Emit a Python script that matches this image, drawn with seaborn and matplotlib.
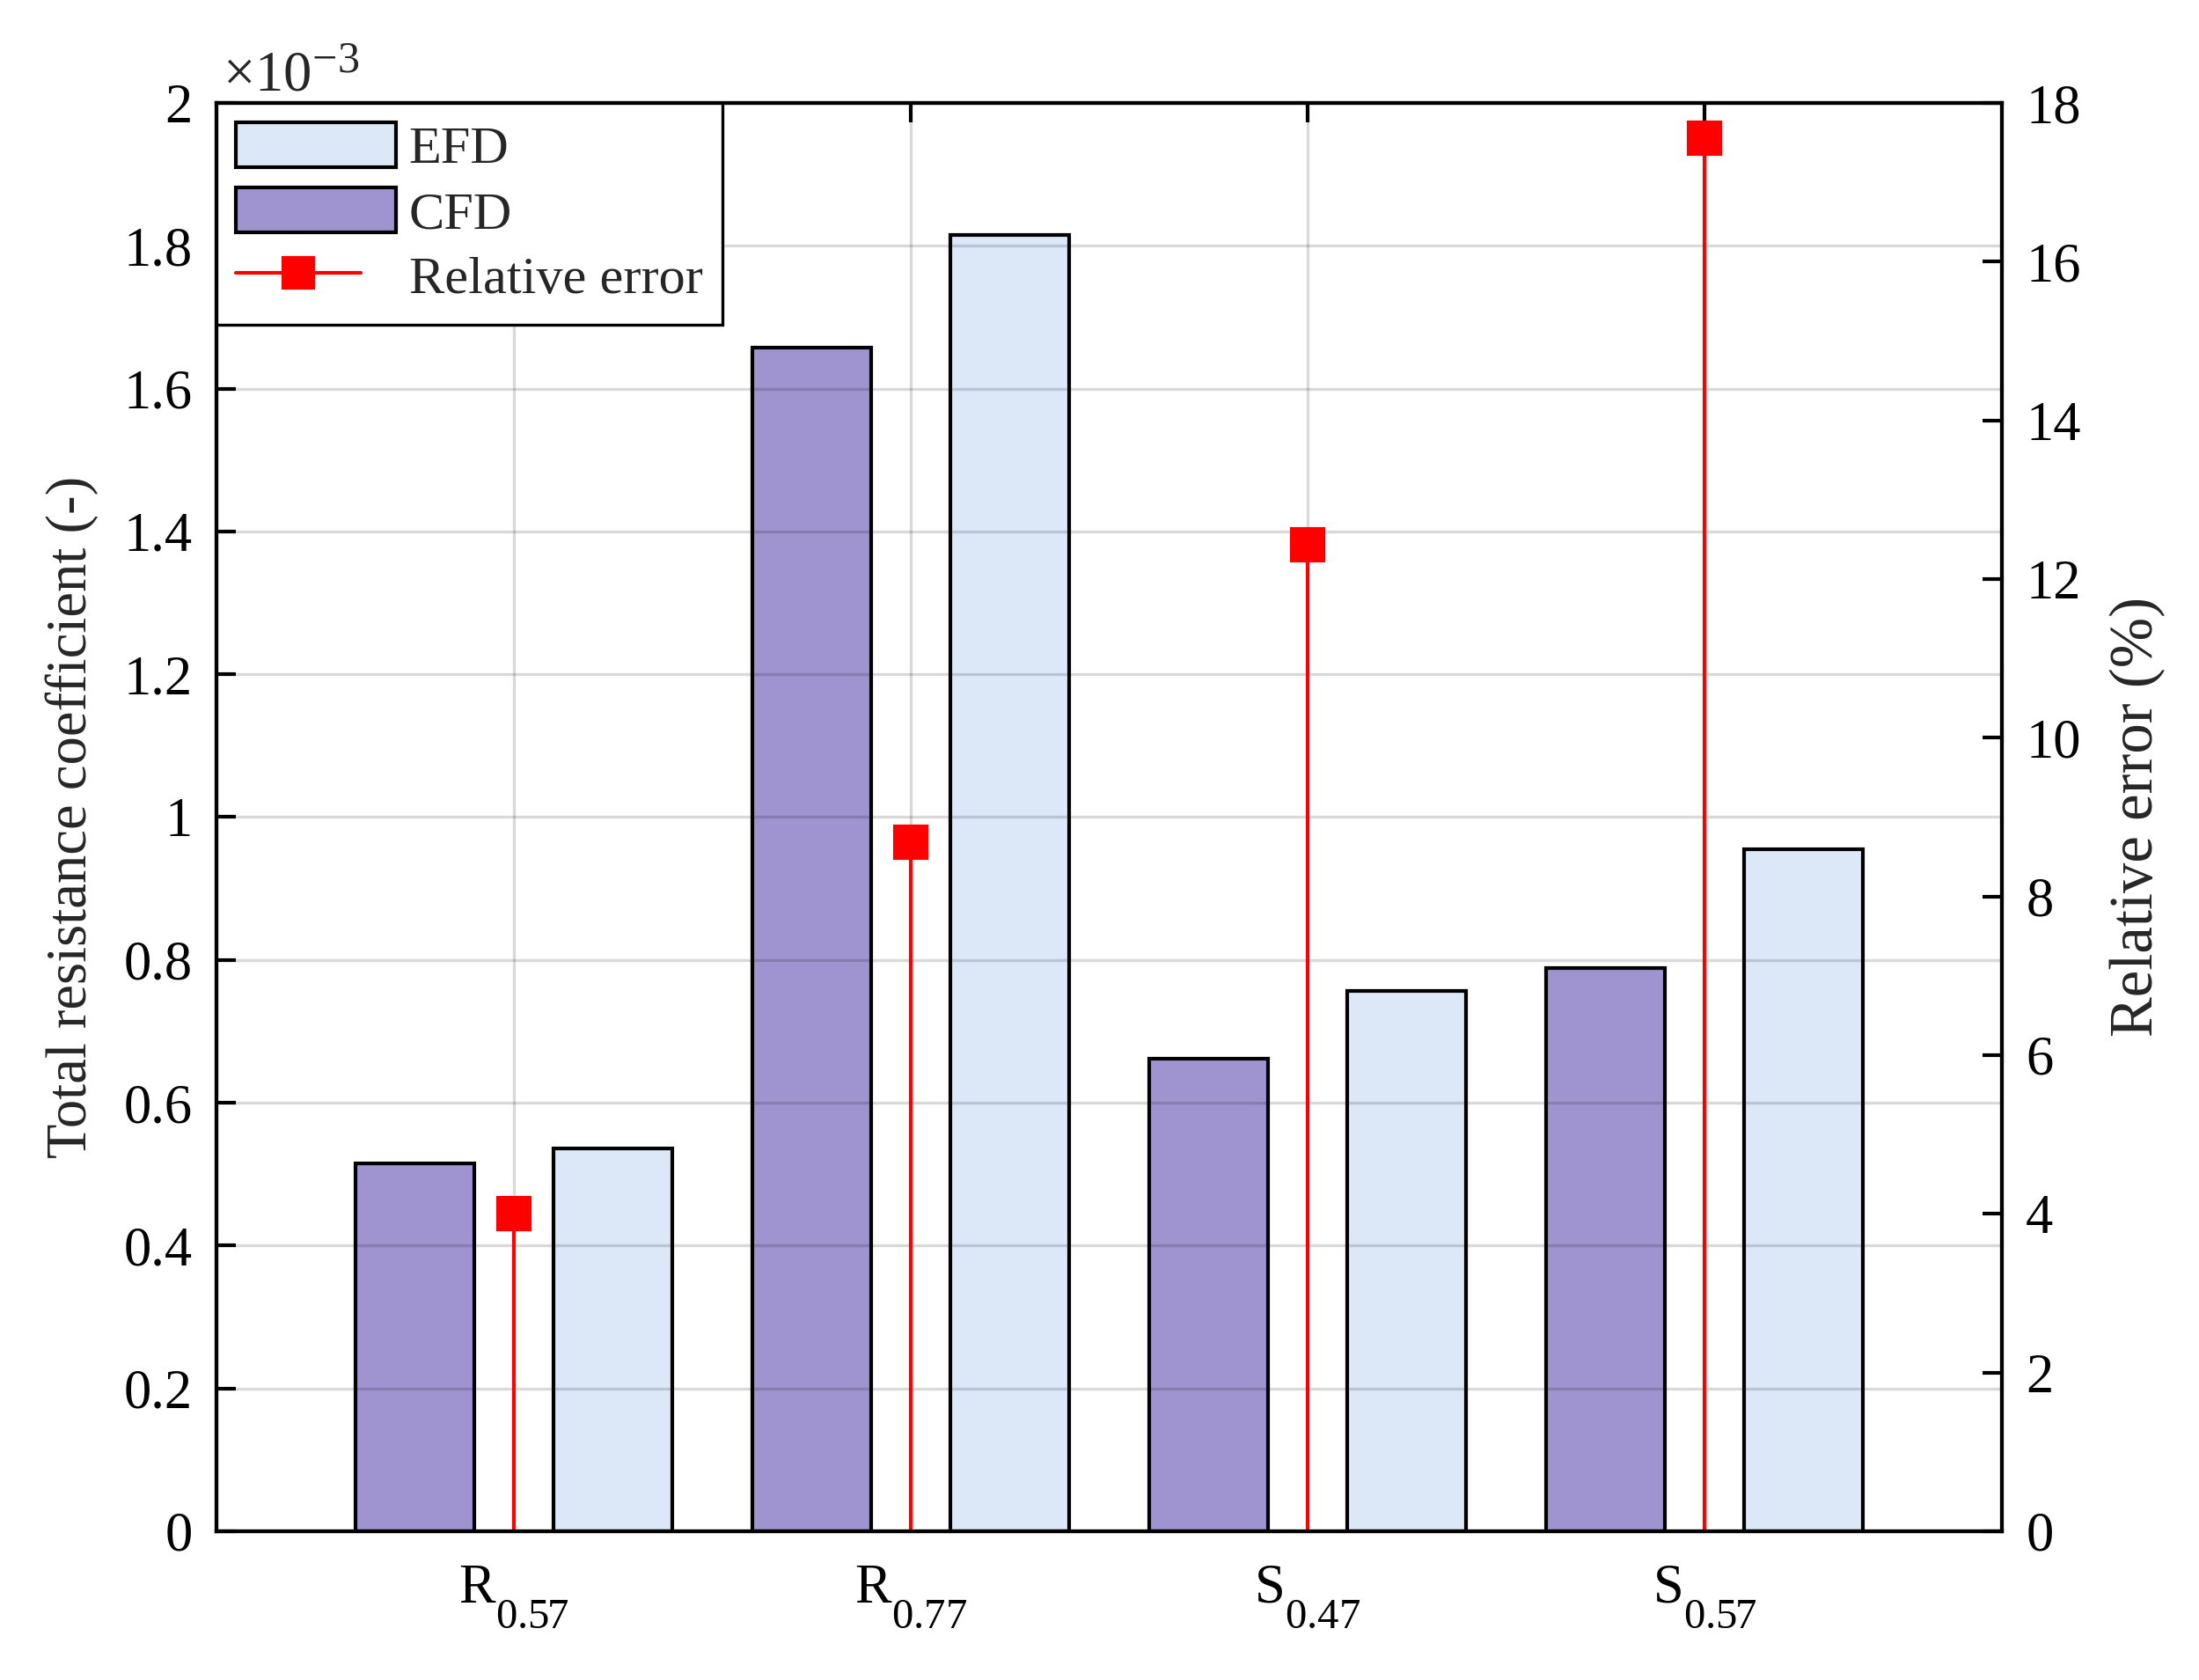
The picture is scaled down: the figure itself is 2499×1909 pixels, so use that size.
import numpy as np
import pandas as pd
import matplotlib.pyplot as plt
import matplotlib._mathtext as mathtext_internals
import seaborn as sns
from matplotlib.patches import Patch
from matplotlib.lines import Line2D
from matplotlib.legend_handler import HandlerLine2D
from matplotlib.ticker import FuncFormatter, MultipleLocator

# values
cases = ["R0.57", "R0.77", "S0.47", "S0.57"]
case_labels = [r"$\mathregular{R_{0.57}}$", r"$\mathregular{R_{0.77}}$",
               r"$\mathregular{S_{0.47}}$", r"$\mathregular{S_{0.57}}$"]
cfd = [0.515e-3, 1.658e-3, 0.662e-3, 0.788e-3]
efd = [0.536e-3, 1.815e-3, 0.756e-3, 0.955e-3]
rel_err = [4.0, 8.68, 12.43, 17.56]

colors = {"CFD": "#9F94D0", "EFD": "#DCE8F7"}

# MATLAB draws subscripts larger and lower than mathtext does by default
mathtext_internals.SHRINK_FACTOR = 0.78
mathtext_internals.FontConstantsBase.sub1 = 1.0


class MarkerAtEnd(HandlerLine2D):
    # MATLAB-style legend entry: short line with the marker near its end
    def get_xdata(self, legend, xdescent, ydescent, width, height, fontsize):
        xdata = np.array([-xdescent, -xdescent + 0.78 * width])
        return xdata, np.array([-xdescent + 0.69 * width])


def main():
    df = pd.DataFrame({
        "case": cases * 2,
        "source": ["CFD"] * len(cases) + ["EFD"] * len(cases),
        "value": cfd + efd,
    })

    sns.set_theme(style="white")
    plt.rcParams["font.family"] = ["Liberation Serif", "DejaVu Serif"]
    plt.rcParams["mathtext.fontset"] = "custom"
    plt.rcParams["mathtext.rm"] = "Liberation Serif"
    plt.rcParams["mathtext.it"] = "Liberation Serif:italic"

    fig = plt.figure(figsize=(2499 / 300, 1909 / 300), dpi=300)
    ax1 = fig.add_axes([0.0984, 0.0886, 0.8120, 0.8501])

    sns.barplot(data=df, x="case", y="value", hue="source",
                hue_order=["CFD", "EFD"], order=cases, palette=colors,
                width=1.0, gap=0.4, edgecolor="black", linewidth=1.0,
                saturation=1, legend=False, ax=ax1)

    ax1.set_xlim(-0.75, len(cases) - 0.25)
    ax1.set_ylim(0, 2e-3)
    ax1.yaxis.set_major_locator(MultipleLocator(0.2e-3))
    ax1.yaxis.set_major_formatter(FuncFormatter(lambda v, p: f"{v * 1e3:g}"))
    ax1.set_xticks(range(len(cases)))
    ax1.set_xticklabels(case_labels)
    ax1.set_xlabel("")
    ax1.set_ylabel("Total resistance coefficient (-)", fontsize=15.5, labelpad=7)
    ax1.tick_params(axis="both", direction="in", length=5.2, width=1.0,
                    labelsize=15, colors="black", top=True, right=False)
    ax1.tick_params(axis="x", pad=9)
    ax1.tick_params(axis="y", pad=6.5)
    ax1.grid(True, color="black", alpha=0.15, linewidth=0.8)
    ax1.set_axisbelow(False)
    for sp in ax1.spines.values():
        sp.set_color("black")
        sp.set_linewidth(1.0)

    ax1.text(0.0035, 1.0086, r"×10$^{\mathregular{-3}}$", transform=ax1.transAxes,
             fontsize=15.5, ha="left", va="baseline")

    # relative error on the right axis, drawn as stems
    ax2 = ax1.twinx()
    xpos = np.arange(len(cases))
    ax2.vlines(xpos, 0, rel_err, color="red", linewidth=1.0)
    ax2.plot(xpos, rel_err, "s", color="red", markersize=8.5, linestyle="none")
    ax2.set_ylim(0, 18)
    ax2.yaxis.set_major_locator(MultipleLocator(2))
    ax2.set_ylabel("Relative error (%)", fontsize=16.5, labelpad=8)
    ax2.tick_params(axis="y", direction="in", length=5.2, width=1.0,
                    labelsize=15, colors="black", pad=6.5)
    for sp in ax2.spines.values():
        sp.set_color("black")
        sp.set_linewidth(1.0)

    handles = [
        Patch(facecolor=colors["EFD"], edgecolor="black", linewidth=1.0, label="EFD"),
        Patch(facecolor=colors["CFD"], edgecolor="black", linewidth=1.0, label="CFD"),
        Line2D([], [], color="red", linewidth=1.0, marker="s", markersize=8,
               label="Relative error"),
    ]
    leg = ax2.legend(handles=handles, loc="upper left", bbox_to_anchor=(0, 1),
                     borderaxespad=0, fontsize=14.5, frameon=True, fancybox=False,
                     framealpha=1, edgecolor="black", handlelength=3.0,
                     handleheight=0.9, handletextpad=0.25, labelspacing=0.25,
                     borderpad=0.37, handler_map={Line2D: MarkerAtEnd(numpoints=1)})
    leg.get_frame().set_linewidth(0.8)

    fig.savefig("out.png", dpi=300)
    plt.close(fig)


if __name__ == "__main__":
    main()
